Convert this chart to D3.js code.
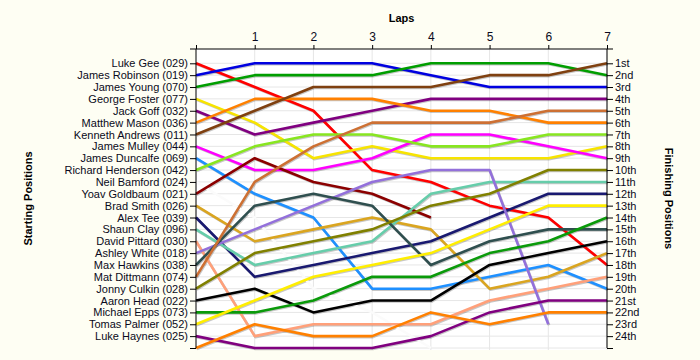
<!DOCTYPE html>
<html><head><meta charset="utf-8">
<script src="https://cdn.jsdelivr.net/npm/d3@7"></script>
<style>
html,body{margin:0;padding:0;background:#fefef3;}
svg{display:block;font-family:"Liberation Sans",Arial,sans-serif;}
</style></head>
<body>
<svg id="c" width="700" height="360"></svg>
<script>
const laps = [0,1,2,3,4,5,6,7];
const drivers = ["Luke Gee (029)","James Robinson (019)","James Young (070)","George Foster (077)","Jack Goff (032)","Matthew Mason (036)","Kenneth Andrews (011)","James Mulley (044)","James Duncalfe (069)","Richard Henderson (042)","Neil Bamford (024)","Yoav Goldbaum (021)","Brad Smith (026)","Alex Tee (039)","Shaun Clay (096)","David Pittard (030)","Ashley White (018)","Max Hawkins (038)","Mat Dittmann (074)","Jonny Culkin (028)","Aaron Head (022)","Michael Epps (073)","Tomas Palmer (052)","Luke Haynes (025)",""];
const colors = ["#ff0000","#0000e0","#009e00","#f7e400","#800080","#ff8000","#7f4010","#ff00ff","#1e90ff","#88e620","#fbfbfb","#8b0000","#daa520","#191970","#66cdaa","#ffa07a","#9370db","#2f4f4f","#cd7033","#808000","#000000","#0a9a0a","#ffee00","#800080","#ff8000"];
const positions = [
 [1,3,5,10,11,13,14,18],
 [2,1,1,1,2,3,3,3],
 [3,2,2,2,1,1,1,2],
 [4,6,9,8,9,9,9,8],
 [5,7,6,5,4,4,4,4],
 [6,4,4,4,5,5,6,6],
 [7,5,3,3,3,2,2,1],
 [8,10,10,9,7,7,8,9],
 [9,12,14,20,20,19,18,20],
 [10,8,7,7,8,8,7,7],
 [11,14,20,22,25],
 [12,9,11,12,14],
 [13,16,15,14,15,20,19,17],
 [14,19,18,17,16,14,12,12],
 [15,18,17,16,12,11,11,11],
 [16,24,23,23,23,21,20,19],
 [17,15,13,11,10,10,23],
 [18,13,12,13,18,16,15,15],
 [19,11,8,6,6,6,5,5],
 [20,17,16,15,13,12,10,10],
 [21,20,22,21,21,18,17,16],
 [22,22,21,19,19,17,16,14],
 [23,21,19,18,17,15,13,13],
 [24,25,25,25,24,22,21,21],
 [25,23,24,24,22,23,22,22]
];
const finishLabels = ["1st","2nd","3rd","4th","5th","6th","7th","8th","9th","10th","11th","12th","13th","14th","15th","16th","17th","18th","19th","20th","21st","22nd","23rd","24th",""];
const slots = d3.range(1,26);

const svg = d3.select("#c");
const pL = 196, pR = 607, pT = 49, pB = 348;
const x = d3.scaleLinear().domain([0,7]).range([pL,pR]);
const y = d3.scaleLinear().domain([1,25]).range([63.3,pB]);

svg.append("rect").attr("x",pL).attr("y",pT).attr("width",pR-pL).attr("height",pB-pT+2).attr("fill","#ffffff");

const g = svg.append("g");
g.selectAll("line.h").data(slots).join("line").attr("class","h")
 .attr("x1",pL).attr("x2",pR).attr("y1",d=>y(d)).attr("y2",d=>y(d))
 .attr("stroke","#e6e6e6").attr("stroke-width",1);
g.selectAll("line.v").data(laps.slice(1)).join("line").attr("class","v")
 .attr("x1",d=>x(d)).attr("x2",d=>x(d)).attr("y1",pT).attr("y2",pB+2)
 .attr("stroke","#e6e6e6").attr("stroke-width",1);

const line = d3.line().x((d,i)=>x(laps[i])).y(d=>y(d));
const series = positions.map((p,i)=>({p, c: colors[i], i}));
series.sort((a,b)=>(a.i===10?-1:0)-(b.i===10?-1:0));
const lg = svg.append("g");
lg.selectAll("path.s").data(series).join("path").attr("class","s")
 .attr("d",d=>line(d.p)).attr("fill","none")
 .attr("stroke","rgba(0,0,0,0.22)").attr("stroke-width",2.6)
 .attr("transform","translate(0.8,1)").attr("stroke-linejoin","round")
 .attr("opacity",d=>d.i===10?0:1);
lg.selectAll("path.l").data(series).join("path").attr("class","l")
 .attr("d",d=>line(d.p)).attr("fill","none")
 .attr("stroke",d=>d.c).attr("stroke-width",2.6).attr("stroke-linejoin","round");

const ax = svg.append("g").attr("transform",`translate(0,${pT})`)
 .call(d3.axisTop(x).tickValues(laps).tickFormat(d=>d===0?"":d).tickSize(4).tickSizeOuter(0));
const ay = svg.append("g").attr("transform",`translate(${pL},0)`)
 .call(d3.axisLeft(y).tickValues(slots).tickFormat(d=>drivers[d-1]).tickSize(6).tickSizeOuter(0));
const ay2 = svg.append("g").attr("transform",`translate(${pR},0)`)
 .call(d3.axisRight(y).tickValues(slots).tickFormat(d=>finishLabels[d-1]).tickSize(6).tickSizeOuter(0));
[ax,ay,ay2].forEach(a=>{
  a.select(".domain").remove();
  a.selectAll("text").attr("font-size",11).attr("font-family","Liberation Sans, Arial, sans-serif").attr("fill","#0a0a20");
  a.selectAll("line").attr("stroke","#000");
});
ax.selectAll("text").attr("font-size",12).attr("dy","-0.1em");
ay.selectAll("text").attr("x",-8);
ay2.selectAll("text").attr("x",8);

svg.append("line").attr("x1",pL).attr("x2",pR).attr("y1",pT).attr("y2",pT).attr("stroke","#000");
svg.append("line").attr("x1",pL).attr("x2",pL).attr("y1",pT).attr("y2",pB).attr("stroke","#000");
svg.append("line").attr("x1",pR).attr("x2",pR).attr("y1",pT).attr("y2",pB).attr("stroke","#000");
svg.append("line").attr("x1",pL-6).attr("x2",pL).attr("y1",pT).attr("y2",pT).attr("stroke","#000");
svg.append("line").attr("x1",pR).attr("x2",pR+6).attr("y1",pT).attr("y2",pT).attr("stroke","#000");

svg.append("text").attr("x",(pL+pR)/2).attr("y",22).attr("text-anchor","middle")
 .attr("font-size",11).attr("font-weight","bold").text("Laps");
svg.append("text").attr("transform",`translate(32,${(pT+pB)/2}) rotate(-90)`).attr("text-anchor","middle")
 .attr("font-size",11).attr("font-weight","bold").text("Starting Positions");
svg.append("text").attr("transform",`translate(665,${(pT+pB)/2}) rotate(90)`).attr("text-anchor","middle")
 .attr("font-size",11).attr("font-weight","bold").text("Finishing Positions");
</script>
</body></html>
